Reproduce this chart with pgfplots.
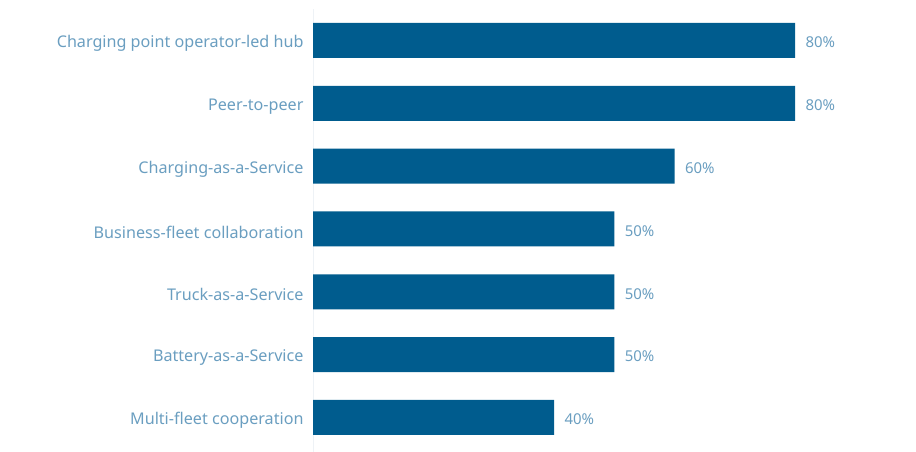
\documentclass[border=0pt]{standalone}
\usepackage{pgfplots}
\pgfplotsset{compat=1.18}
\usepackage{fontspec}
\setmainfont{Noto Sans}
\definecolor{barblue}{HTML}{005C8E}
\definecolor{txtblue}{HTML}{6A9EC0}
\definecolor{axgray}{HTML}{EEF2F6}
\begin{document}
\begin{tikzpicture}
\useasboundingbox (0bp,0bp) rectangle (916bp,452bp);
\begin{axis}[
  at={(313bp,0bp)}, anchor=south west,
  scale only axis, width=602.5bp, height=443bp,
  xbar, bar width=35bp,
  xmin=0, xmax=100,
  ymin=-0.5, ymax=6.55, y dir=reverse,
  axis x line=none,
  axis y line=left,
  y axis line style={draw=axgray, line width=1bp, -},
  ytick={0,...,6},
  yticklabels={Charging point operator-led hub, Peer-to-peer, Charging-as-a-Service, Business-fleet collaboration, Truck-as-a-Service, Battery-as-a-Service, Multi-fleet cooperation},
  major tick length=0pt,
  yticklabel style={font=\fontsize{16.2}{19}\selectfont, text=txtblue, xshift=-6bp, yshift=-3bp},
  /pgf/number format/assume math mode=true,
  nodes near coords={\pgfmathprintnumber{\pgfplotspointmeta}\%},
  nodes near coords style={font=\fontsize{15}{18}\selectfont, text=txtblue, anchor=west, xshift=7bp, yshift=-2bp},
  point meta=x,
  clip=false,
]
\addplot[fill=barblue, draw=none] coordinates {(80,0) (80,1) (60,2) (50,3) (50,4) (50,5) (40,6)};
\end{axis}
\end{tikzpicture}
\end{document}
